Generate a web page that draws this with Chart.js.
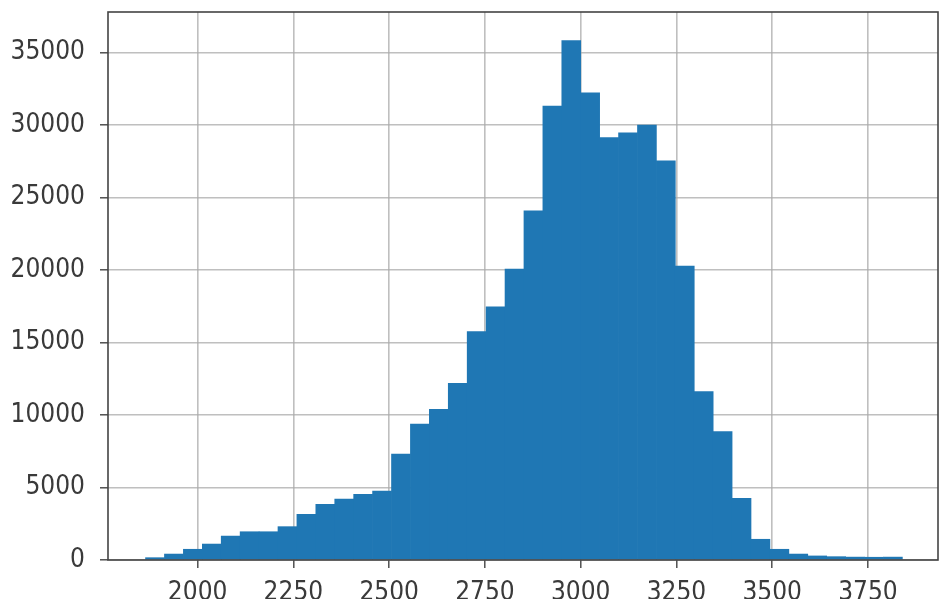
<!DOCTYPE html>
<html>
<head>
<meta charset="utf-8">
<script src="https://cdn.jsdelivr.net/npm/chart.js@4/dist/chart.umd.min.js"></script>
<style>
  html, body { margin: 0; padding: 0; background: #ffffff; }
  #wrap { width: 940px; height: 599px; }
</style>
</head>
<body>
<div id="wrap"><canvas id="c" width="940" height="599"></canvas></div>
<script>
// Histogram: 40 bins
const binStart = 1864;
const binWidth = 49.4;
const counts = [
  160, 410, 740, 1100, 1650, 1950, 1950, 2300, 3150, 3840,
  4210, 4530, 4760, 7310, 9380, 10390, 12190, 15750, 17470, 20070,
  24090, 31310, 35820, 32230, 29130, 29470, 30000, 27540, 20280, 11610,
  8850, 4250, 1430, 740, 410, 280, 230, 200, 190, 200
];
const xTicks = [2000, 2250, 2500, 2750, 3000, 3250, 3500, 3750];
const yTicks = [0, 5000, 10000, 15000, 20000, 25000, 30000, 35000];

const points = counts.map((v, i) => ({ x: binStart + binWidth * (i + 0.5), y: v }));

const FONT = { family: '"DejaVu Sans Condensed", "Liberation Sans", "DejaVu Sans", sans-serif', size: 26 };
const TEXT = '#3a3a3a';
const GRID = 'rgba(170,170,170,0.75)';

const framePlugin = {
  id: 'frame',
  afterDraw(chart) {
    const { ctx, chartArea: a } = chart;
    ctx.save();
    ctx.strokeStyle = '#444';
    ctx.lineWidth = 1.6;
    ctx.strokeRect(a.left, a.top, a.right - a.left, a.bottom - a.top);
    ctx.restore();
  }
};

new Chart(document.getElementById('c'), {
  type: 'bar',
  data: {
    datasets: [{
      data: points,
      backgroundColor: '#1f77b4',
      borderColor: '#1f77b4',
      borderWidth: 0,
      barPercentage: 1.0,
      categoryPercentage: 1.0
    }]
  },
  options: {
    responsive: false,
    animation: false,
    layout: { padding: { top: 12, right: 2, left: 0, bottom: 0 } },
    plugins: { legend: { display: false }, tooltip: { enabled: false } },
    scales: {
      x: {
        type: 'linear',
        min: 1766,
        max: 3933,
        offset: false,
        z: 1,
        border: { display: false },
        grid: { color: GRID, lineWidth: 1.6, offset: false, drawTicks: true, tickLength: 8, tickColor: '#444', tickWidth: 1.4 },
        afterBuildTicks(scale) { scale.ticks = xTicks.map(v => ({ value: v })); },
        afterFit(scale) { scale.height = 39; scale.paddingLeft = 0; scale.paddingRight = 0; },
        ticks: { color: TEXT, font: FONT, padding: 10, maxRotation: 0, autoSkip: false, callback: v => String(v) }
      },
      y: {
        min: 0,
        max: 37800,
        z: 1,
        border: { display: false },
        grid: { color: GRID, lineWidth: 1.6, drawTicks: true, tickLength: 8, tickColor: '#444', tickWidth: 1.4 },
        afterBuildTicks(scale) { scale.ticks = yTicks.map(v => ({ value: v })); },
        afterFit(scale) { scale.width = 108; scale.paddingTop = 0; scale.paddingBottom = 0; },
        ticks: { color: TEXT, font: FONT, padding: 15, autoSkip: false, callback: v => String(v) }
      }
    }
  },
  plugins: [framePlugin]
});
</script>
</body>
</html>
